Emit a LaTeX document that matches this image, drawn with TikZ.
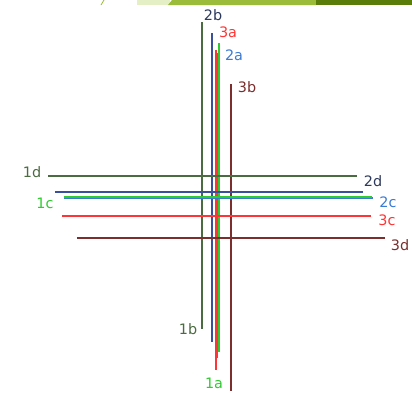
\documentclass[tikz,border=0pt]{standalone}
\usepackage{fontspec}
\setmainfont{DejaVu Sans}
\usepackage{xcolor}
\usetikzlibrary{positioning}
\definecolor{DarkGreen}{HTML}{4B6B40}
\definecolor{DarkBlue}{HTML}{3A4F9E}
\definecolor{LineBlue}{HTML}{3A7BD5}
\definecolor{LineGreen}{HTML}{2ECC2E}
\definecolor{LineRed}{HTML}{FF3535}
\definecolor{DarkRed}{HTML}{7A2E2E}
\definecolor{LabNavy}{HTML}{2E3A5C}
\definecolor{BandPale}{HTML}{E4EFC6}
\definecolor{BandMid}{HTML}{9BBB3B}
\definecolor{BandDark}{HTML}{5A7D0A}

\begin{document}
\begin{tikzpicture}[x=0.75pt, y=-0.75pt,
        ln/.style={line width=1.35pt},
        lab/.style={inner sep=0pt, font=\fontsize{10.8}{13}\selectfont}
    ]
        \useasboundingbox (0,0) rectangle (412,393);

        % band at the top
        \fill[BandPale] (137,0) rectangle (170,5);
        \fill[BandMid] (172,0) -- (316,0) -- (316,5) -- (168,5) -- cycle;
        \fill[BandDark] (316,0) rectangle (412,5);
        \draw[BandMid, line width=0.6pt] (101,5) -- (104,0);

        % vertical lines
        \coordinate (v1b-t) at (202,22);  \coordinate (v1b-b) at (202,329);
        \coordinate (v2b-t) at (212,33);  \coordinate (v2b-b) at (212,342);
        \coordinate (v3a-t) at (216.3,50);  \coordinate (v3a-b) at (216.3,370);
        \coordinate (v2a-t) at (217.5,53);  \coordinate (v2a-b) at (217.5,358);
        \coordinate (v1a-t) at (218.7,43);  \coordinate (v1a-b) at (218.7,352);
        \coordinate (v3b-t) at (231,84);  \coordinate (v3b-b) at (231,391);

        \draw[ln, DarkGreen] (v1b-t) -- (v1b-b);
        \draw[ln, DarkBlue] (v2b-t) -- (v2b-b);
        \draw[ln, LineRed] (v3a-t) -- (v3a-b);
        \draw[ln, LineBlue] (v2a-t) -- (v2a-b);
        \draw[ln, LineGreen] (v1a-t) -- (v1a-b);
        \draw[ln, DarkRed] (v3b-t) -- (v3b-b);

        % horizontal lines
        \coordinate (h1d-l) at (48,176);  \coordinate (h1d-r) at (357,176);
        \coordinate (h2d-l) at (55,192);  \coordinate (h2d-r) at (363,192);
        \coordinate (h1c-l) at (64,196.7);  \coordinate (h1c-r) at (372,196.7);
        \coordinate (h2c-l) at (64,198.2);  \coordinate (h2c-r) at (373,198.2);
        \coordinate (h3c-l) at (62,216);  \coordinate (h3c-r) at (371,216);
        \coordinate (h3d-l) at (77,238);  \coordinate (h3d-r) at (385,238);

        \draw[ln, DarkGreen] (h1d-l) -- (h1d-r);
        \draw[ln, DarkBlue] (h2d-l) -- (h2d-r);
        \draw[ln, LineBlue] (h2c-l) -- (h2c-r);
        \draw[ln, LineGreen] (h1c-l) -- (h1c-r);
        \draw[ln, LineRed] (h3c-l) -- (h3c-r);
        \draw[ln, DarkRed] (h3d-l) -- (h3d-r);

        % labels
        \node[lab, LabNavy] (l2b) at (213,15) {2b};
        \node[lab, LineRed] (l3a) at (228,32) {3a};
        \node[lab, LineBlue] (l2a) at (234,55) {2a};
        \node[lab, DarkRed] (l3b) at (247,87) {3b};
        \node[lab, DarkGreen] (l1b) at (188,329) {1b};
        \node[lab, LineGreen] (l1a) at (214,383) {1a};

        \node[lab, DarkGreen] (l1d) at (32,172) {1d};
        \node[lab, LineGreen] (l1c) at (45,203) {1c};
        \node[lab, LabNavy] (l2d) at (373,181) {2d};
        \node[lab, LineBlue] (l2c) at (388,202) {2c};
        \node[lab, LineRed] (l3c) at (387,220) {3c};
        \node[lab, DarkRed] (l3d) at (400,245) {3d};
    \end{tikzpicture}
\end{document}
